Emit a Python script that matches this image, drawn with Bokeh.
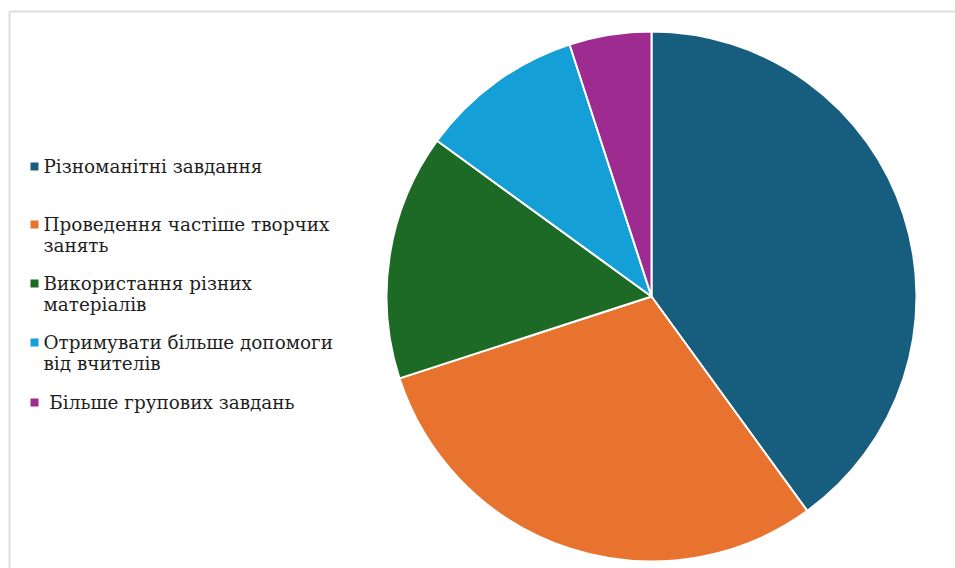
import numpy as np
from bokeh.plotting import figure
from bokeh.models import ColumnDataSource, Range1d
from bokeh.core.properties import value
from bokeh.embed import file_html
from bokeh.resources import INLINE

categories = [
    "Різноманітні завдання",
    "Проведення частіше творчих\nзанять",
    "Використання різних\nматеріалів",
    "Отримувати більше допомоги\nвід вчителів",
    "\u00a0Більше групових завдань",
]
values = [40, 30, 15, 10, 5]
colors = ["#175E7E", "#E8732F", "#1D6A27", "#14A0D6", "#9E2B8F"]

W, H = 955, 568
p = figure(width=W, height=H, output_backend="svg", toolbar_location=None,
           x_range=Range1d(0, W), y_range=Range1d(H, 0), min_border=0)
p.axis.visible = False
p.grid.visible = False
p.outline_line_color = None
p.background_fill_color = "white"
p.border_fill_color = "white"

# frame lines (top and left)
p.line(x=[9, W], y=[11, 11], line_color="#DDDDDD", line_width=2)
p.line(x=[9, 9], y=[11, H], line_color="#DDDDDD", line_width=2)

# pie, clockwise from 12 o'clock
vals = np.array(values, dtype=float)
frac = vals / vals.sum()
ends = np.cumsum(frac) * 2 * np.pi
starts = np.concatenate([[0], ends[:-1]])
src = ColumnDataSource(dict(start=np.pi / 2 - starts, end=np.pi / 2 - ends, color=colors))
cx, cy, r = 651, 296, 265
p.wedge(x=cx, y=cy, radius=r, start_angle="start", end_angle="end",
        direction="clock", fill_color="color", line_color="white",
        line_width=2, source=src)

# legend
rows_y = [166, 224, 283, 342, 402]
line_h = 21
font = value("DejaVu Serif")
for lbl, col, y in zip(categories, colors, rows_y):
    p.scatter(x=[34], y=[y], marker="square", size=8, fill_color=col, line_color=None)
    for k, part in enumerate(lbl.split("\n")):
        p.text(x=[43], y=[y + k * line_h], text=[part], text_font=font,
               text_font_size="18.4px", text_color="#1E1E1E", text_baseline="middle",
               text_align="left")

open("out.html", "w").write(file_html(p, INLINE))
